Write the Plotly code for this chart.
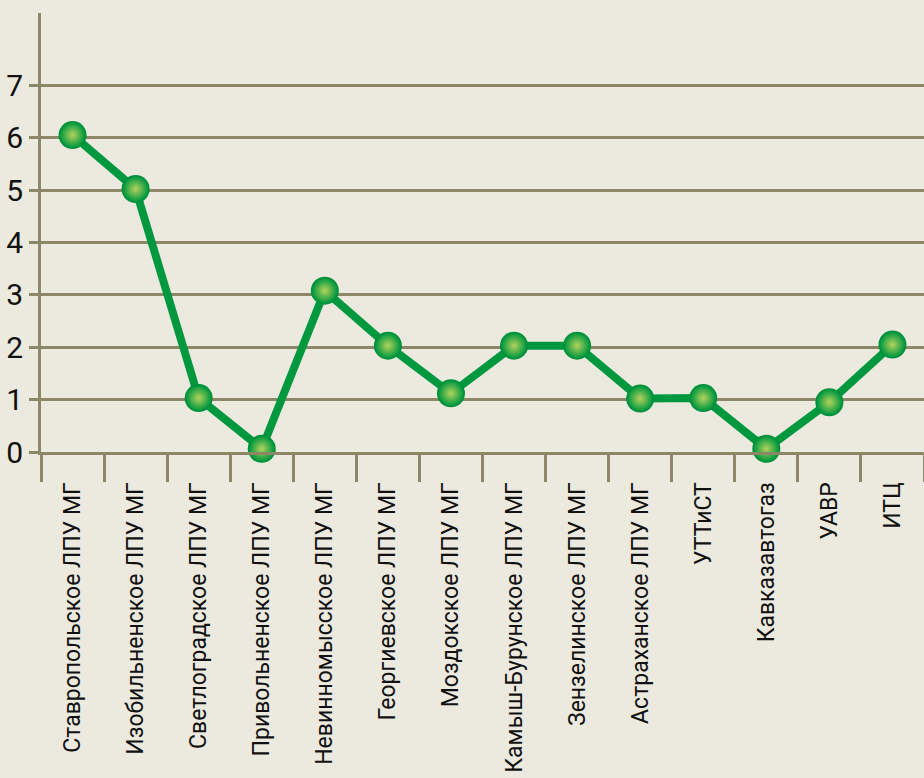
import plotly.graph_objects as go

categories = [
    "Ставропольское ЛПУ МГ", "Изобильненское ЛПУ МГ", "Светлоградское ЛПУ МГ",
    "Привольненское ЛПУ МГ", "Невинномысское ЛПУ МГ", "Георгиевское ЛПУ МГ",
    "Моздокское ЛПУ МГ", "Камыш-Бурунское ЛПУ МГ", "Зензелинское ЛПУ МГ",
    "Астраханское ЛПУ МГ", "УТТиСТ", "Кавказавтогаз", "УАВР", "ИТЦ",
]
values = [6.05, 5.02, 1.03, 0.06, 3.08, 2.03, 1.12, 2.03, 2.03, 1.02, 1.03, 0.06, 0.95, 2.05]
y_ticks = [0, 1, 2, 3, 4, 5, 6, 7]

BG = "#eceadf"
GRID = "#8c8766"
GREEN = "#00983f"
LIGHT = "#b4d25c"
FONT = "Roboto, Liberation Sans, sans-serif"

fig = go.Figure()
fig.add_trace(go.Scatter(
    x=categories, y=values, mode="lines+markers",
    line=dict(color=GREEN, width=8),
    marker=dict(size=28, color="#00903a", line=dict(width=0)),
    cliponaxis=False, hoverinfo="skip",
))
fig.add_trace(go.Scatter(
    x=categories, y=values, mode="markers",
    marker=dict(size=25, color=GREEN, line=dict(width=0),
                gradient=dict(type="radial", color=LIGHT)),
    cliponaxis=False, hoverinfo="skip",
))

fig.update_layout(
    width=924, height=778,
    paper_bgcolor=BG, plot_bgcolor=BG,
    margin=dict(l=41, r=0, t=13, b=326),
    showlegend=False,
    font=dict(family=FONT, color="#111111"),
    xaxis=dict(
        type="category", range=[-0.5, len(categories) - 0.5],
        showgrid=False, showline=True, linecolor=GRID, linewidth=3,
        ticks="outside", tickson="boundaries", ticklen=27, tickwidth=3, tickcolor=GRID,
        tickangle=-90, tickfont=dict(size=23, family=FONT, color="#111111"),
        ticklabelstandoff=18,
    ),
    yaxis=dict(
        range=[0, 8.38], tickvals=y_ticks,
        showgrid=True, gridcolor=GRID, gridwidth=3, zeroline=False,
        showline=True, linecolor=GRID, linewidth=3,
        ticks="outside", ticklen=9, tickwidth=3, tickcolor=GRID,
        tickfont=dict(size=30, family=FONT, color="#111111"),
    ),
)

fig.write_html(
    "out.html",
    config={"displayModeBar": False, "staticPlot": True},
    post_script="document.body.style.margin='0';document.body.style.background='#eceadf';document.body.style.overflow='hidden';",
)
